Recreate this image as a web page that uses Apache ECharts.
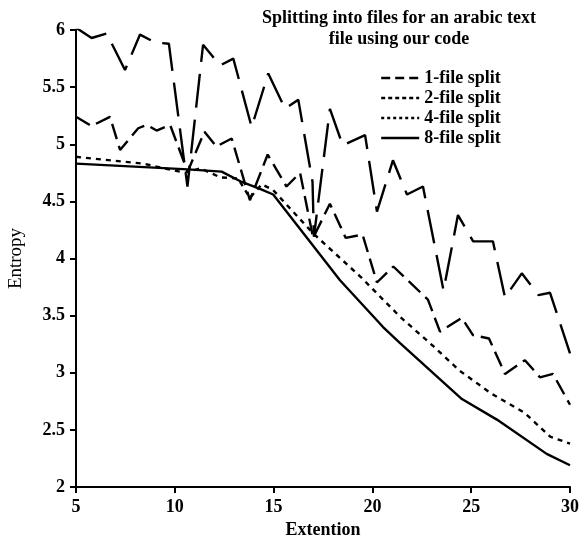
<!DOCTYPE html>
<html>
<head>
<meta charset="utf-8">
<script src="https://cdn.jsdelivr.net/npm/echarts@6/dist/echarts.min.js"></script>
<style>
  html, body { margin: 0; padding: 0; background: #fff; }
  #chart { width: 586px; height: 537px; }
</style>
</head>
<body>
<div id="chart"></div>
<script>
// values, [extention, entropy]
const oneFile = [
  [5, 6.02], [5.79, 5.93], [6.55, 5.97], [7.48, 5.65], [8.24, 5.96], [9.0, 5.89], [9.7, 5.88],
  [10.64, 4.63], [11.43, 5.87], [12.29, 5.69], [12.96, 5.75], [13.89, 5.15], [14.73, 5.62],
  [15.58, 5.31], [16.25, 5.39], [16.97, 4.67], [17.04, 4.19], [17.85, 5.31], [18.5, 4.99],
  [19.63, 5.08], [20.23, 4.41], [21.04, 4.86], [21.75, 4.56], [22.56, 4.63], [23.6, 3.72],
  [24.33, 4.38], [25.1, 4.15], [26.1, 4.15], [26.71, 3.66], [27.56, 3.87], [28.4, 3.68],
  [28.99, 3.7], [30, 3.17]
];
const twoFile = [
  [5, 5.24], [5.79, 5.16], [6.72, 5.24], [7.23, 4.95], [8.15, 5.14], [8.58, 5.17], [9.08, 5.12],
  [9.76, 5.17], [10.65, 4.76], [11.5, 5.11], [12.1, 4.98], [12.88, 5.05], [13.8, 4.51],
  [14.7, 4.91], [15.65, 4.63], [16.34, 4.75], [17.0, 4.18], [17.85, 4.48], [18.65, 4.18],
  [19.5, 4.21], [20.23, 3.79], [21.06, 3.93], [22.81, 3.64], [23.42, 3.36], [24.52, 3.48],
  [25.09, 3.33], [25.9, 3.3], [26.71, 2.99], [27.72, 3.11], [28.48, 2.96], [29.14, 2.99],
  [30, 2.72]
];
const fourFile = [
  [5, 4.89], [8.4, 4.83], [10.52, 4.75], [11.3, 4.79], [12.3, 4.71], [13.2, 4.7], [13.8, 4.53],
  [14.4, 4.65], [14.97, 4.6], [17.0, 4.22], [19.4, 3.84], [21.4, 3.49], [23.1, 3.23],
  [24.4, 3.02], [26.0, 2.82], [27.7, 2.65], [29.0, 2.44], [30, 2.38]
];
const eightFile = [
  [5, 4.83], [10.67, 4.78], [12.37, 4.76], [13.39, 4.67], [14.31, 4.61], [14.98, 4.56],
  [18.36, 3.81], [20.54, 3.4], [21.4, 3.26], [24.53, 2.77], [26.3, 2.59], [28.82, 2.29],
  [30, 2.19]
];
const seriesNames = ['1-file split', '2-file split', '4-file split', '8-file split'];

const serif = '"Liberation Serif", "DejaVu Serif", serif';
const chart = echarts.init(document.getElementById('chart'), null, { renderer: 'canvas' });

function lineSeries(name, data, dash) {
  return {
    name: name,
    type: 'line',
    data: data,
    symbol: 'none',
    color: '#000',
    itemStyle: { opacity: 0 },
    lineStyle: { color: '#000', width: 2.4, type: dash },
    animation: false
  };
}

// shorter dash patterns for the legend samples
const legendDash = [[9, 5], [4, 3], [3, 3], 'solid'];

const option = {
  backgroundColor: '#fff',
  title: {
    text: 'Splitting into files for an arabic text\nfile using our code',
    left: 394,
    top: 3,
    textAlign: 'center',
    textStyle: { fontFamily: serif, fontWeight: 'bold', fontSize: 18, lineHeight: 21, color: '#000' }
  },
  legend: {
    orient: 'vertical',
    left: 375,
    top: 64,
    itemWidth: 38,
    itemHeight: 14,
    itemGap: 2,
    data: seriesNames.map((n, i) => ({ name: n, lineStyle: { type: legendDash[i], width: 2.4 } })),
    itemStyle: { opacity: 0 },
    textStyle: { fontFamily: serif, fontWeight: 'bold', fontSize: 18, color: '#000' }
  },
  grid: { left: 76, right: 16, top: 30, bottom: 50, outerBoundsMode: 'none' },
  xAxis: {
    type: 'value',
    min: 5, max: 30, interval: 5,
    name: 'Extention',
    nameLocation: 'middle',
    nameGap: 31,
    nameTextStyle: { fontFamily: serif, fontWeight: 'bold', fontSize: 18, color: '#000' },
    axisLine: { lineStyle: { color: '#000', width: 2 } },
    axisTick: { inside: false, length: 6, lineStyle: { color: '#000', width: 2 } },
    axisLabel: { fontFamily: serif, fontWeight: 'bold', fontSize: 18, color: '#000', margin: 11 },
    splitLine: { show: false }
  },
  yAxis: {
    type: 'value',
    min: 2, max: 6, interval: 0.5,
    name: 'Entropy',
    nameLocation: 'middle',
    nameGap: 50,
    nameRotate: 90,
    nameTextStyle: { fontFamily: serif, fontSize: 19, color: '#000' },
    axisLine: { show: true, lineStyle: { color: '#000', width: 2 } },
    axisTick: { show: true, inside: false, length: 6, lineStyle: { color: '#000', width: 2 } },
    axisLabel: { fontFamily: serif, fontWeight: 'bold', fontSize: 18, color: '#000', margin: 11 },
    splitLine: { show: false }
  },
  series: [
    lineSeries(seriesNames[0], oneFile, [34, 12]),
    lineSeries(seriesNames[1], twoFile, [16, 7]),
    lineSeries(seriesNames[2], fourFile, [5, 5]),
    lineSeries(seriesNames[3], eightFile, 'solid')
  ]
};
chart.setOption(option);
</script>
</body>
</html>
